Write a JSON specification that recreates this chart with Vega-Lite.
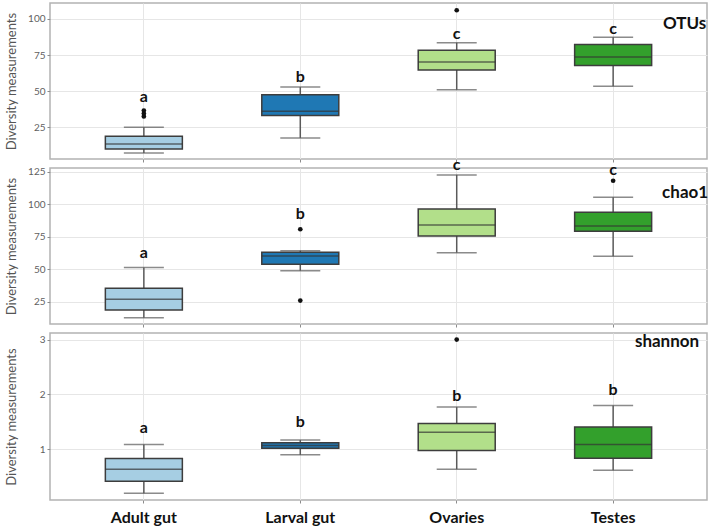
{
  "$schema": "https://vega.github.io/schema/vega-lite/v6.json",
  "padding": {"left": 4, "top": 2, "right": 2, "bottom": 0},
  "spacing": 9,
  "bounds": "flush",
  "datasets": {
    "stats": [
      {"panel": "OTUs", "group": "Adult gut", "lower": 7.2, "q1": 9.9, "median": 13.4, "q3": 18.75, "upper": 25},
      {"panel": "OTUs", "group": "Larval gut", "lower": 17.6, "q1": 33.1, "median": 36.1, "q3": 47.4, "upper": 52.8},
      {"panel": "OTUs", "group": "Ovaries", "lower": 50.9, "q1": 64.6, "median": 70.1, "q3": 78.3, "upper": 83.5},
      {"panel": "OTUs", "group": "Testes", "lower": 53.3, "q1": 67.8, "median": 73.6, "q3": 82.2, "upper": 87.3},
      {"panel": "chao1", "group": "Adult gut", "lower": 12.7, "q1": 18.6, "median": 26.8, "q3": 35.3, "upper": 51.2},
      {"panel": "chao1", "group": "Larval gut", "lower": 48.8, "q1": 53.8, "median": 60.2, "q3": 63, "upper": 64.2},
      {"panel": "chao1", "group": "Ovaries", "lower": 62.7, "q1": 75.5, "median": 84, "q3": 96.3, "upper": 122.5},
      {"panel": "chao1", "group": "Testes", "lower": 60, "q1": 79.2, "median": 83.2, "q3": 93.8, "upper": 105.3},
      {"panel": "shannon", "group": "Adult gut", "lower": 0.2, "q1": 0.418, "median": 0.636, "q3": 0.836, "upper": 1.09},
      {"panel": "shannon", "group": "Larval gut", "lower": 0.9, "q1": 1.02, "median": 1.07, "q3": 1.12, "upper": 1.17},
      {"panel": "shannon", "group": "Ovaries", "lower": 0.64, "q1": 0.98, "median": 1.31, "q3": 1.47, "upper": 1.77},
      {"panel": "shannon", "group": "Testes", "lower": 0.62, "q1": 0.84, "median": 1.09, "q3": 1.41, "upper": 1.8}
    ],
    "outliers": [
      {"panel": "OTUs", "group": "Adult gut", "value": 32.5},
      {"panel": "OTUs", "group": "Adult gut", "value": 34.5},
      {"panel": "OTUs", "group": "Adult gut", "value": 36.5},
      {"panel": "OTUs", "group": "Ovaries", "value": 106},
      {"panel": "chao1", "group": "Larval gut", "value": 80.7},
      {"panel": "chao1", "group": "Larval gut", "value": 25.8},
      {"panel": "chao1", "group": "Testes", "value": 118},
      {"panel": "shannon", "group": "Ovaries", "value": 3.0}
    ],
    "letters": [
      {"panel": "OTUs", "group": "Adult gut", "y": 46.0, "text": "a"},
      {"panel": "OTUs", "group": "Larval gut", "y": 59.7, "text": "b"},
      {"panel": "OTUs", "group": "Ovaries", "y": 89.6, "text": "c"},
      {"panel": "OTUs", "group": "Testes", "y": 93.3, "text": "c"},
      {"panel": "chao1", "group": "Adult gut", "y": 62.7, "text": "a"},
      {"panel": "chao1", "group": "Larval gut", "y": 92.2, "text": "b"},
      {"panel": "chao1", "group": "Ovaries", "y": 130.2, "text": "c"},
      {"panel": "chao1", "group": "Testes", "y": 126.3, "text": "c"},
      {"panel": "shannon", "group": "Adult gut", "y": 1.39, "text": "a"},
      {"panel": "shannon", "group": "Larval gut", "y": 1.50, "text": "b"},
      {"panel": "shannon", "group": "Ovaries", "y": 1.97, "text": "b"},
      {"panel": "shannon", "group": "Testes", "y": 2.08, "text": "b"}
    ],
    "titles": [
      {"panel": "OTUs", "group": "Testes", "y": 96.5, "text": "OTUs"},
      {"panel": "chao1", "group": "Testes", "y": 108.6, "text": "chao1"},
      {"panel": "shannon", "group": "Testes", "y": 2.95, "text": "shannon"}
    ]
  },
  "vconcat": [
    {
      "width": 657, "height": 156,
      "encoding": {
        "x": {"field": "group", "type": "nominal", "scale": {"domain": ["Adult gut", "Larval gut", "Ovaries", "Testes"], "paddingInner": 0, "paddingOuter": 0.1}, "axis": {"labels": false, "title": null, "grid": true, "bandPosition": 0.5}}
      },
      "layer": [
        {"data": {"name": "stats"}, "transform": [{"filter": "datum.panel == 'OTUs'"}],
         "mark": {"type": "rule", "color": "#5a5a5a", "strokeWidth": 1.5},
         "encoding": {"y": {"field": "lower", "type": "quantitative", "title": "Diversity measurements", "scale": {"domain": [3, 111], "nice": false, "zero": false},
           "axis": {"values": [25, 50, 75, 100], "labelOverlap": false}},
           "y2": {"field": "upper"}}},
        {"data": {"name": "stats"}, "transform": [{"filter": "datum.panel == 'OTUs'"}],
         "mark": {"type": "tick", "color": "#5a5a5a", "thickness": 1.5, "size": 40, "orient": "horizontal"},
         "encoding": {"y": {"field": "lower", "type": "quantitative", "title": "Diversity measurements", "scale": {"domain": [3, 111], "nice": false, "zero": false}}}},
        {"data": {"name": "stats"}, "transform": [{"filter": "datum.panel == 'OTUs'"}],
         "mark": {"type": "tick", "color": "#5a5a5a", "thickness": 1.5, "size": 40, "orient": "horizontal"},
         "encoding": {"y": {"field": "upper", "type": "quantitative", "title": "Diversity measurements", "scale": {"domain": [3, 111], "nice": false, "zero": false}}}},
        {"data": {"name": "stats"}, "transform": [{"filter": "datum.panel == 'OTUs'"}],
         "mark": {"type": "bar", "size": 77, "stroke": "#3d3d3d", "strokeWidth": 1.5, "opacity": 1},
         "encoding": {"y": {"field": "q1", "type": "quantitative", "title": "Diversity measurements", "scale": {"domain": [3, 111], "nice": false, "zero": false}}, "y2": {"field": "q3"},
           "color": {"field": "group", "type": "nominal", "legend": null, "scale": {"domain": ["Adult gut", "Larval gut", "Ovaries", "Testes"], "range": ["#a6cee3", "#1f78b4", "#b2df8a", "#33a02c"]}}}},
        {"data": {"name": "stats"}, "transform": [{"filter": "datum.panel == 'OTUs'"}],
         "mark": {"type": "tick", "color": "#333333", "thickness": 1.5, "size": 77, "orient": "horizontal"},
         "encoding": {"y": {"field": "median", "type": "quantitative", "title": "Diversity measurements", "scale": {"domain": [3, 111], "nice": false, "zero": false}}}},
        {"data": {"name": "outliers"}, "transform": [{"filter": "datum.panel == 'OTUs'"}],
         "mark": {"type": "circle", "color": "#111111", "size": 22, "opacity": 1},
         "encoding": {"y": {"field": "value", "type": "quantitative", "title": "Diversity measurements", "scale": {"domain": [3, 111], "nice": false, "zero": false}}}},
        {"data": {"name": "letters"}, "transform": [{"filter": "datum.panel == 'OTUs'"}],
         "mark": {"type": "text", "font": "Lato", "fontWeight": "bold", "fontSize": 16, "color": "#111111", "baseline": "middle"},
         "encoding": {"y": {"field": "y", "type": "quantitative", "title": "Diversity measurements", "scale": {"domain": [3, 111], "nice": false, "zero": false}}, "text": {"field": "text"}}},
        {"data": {"name": "titles"}, "transform": [{"filter": "datum.panel == 'OTUs'"}],
         "mark": {"type": "text", "font": "Lato", "fontWeight": "bold", "fontSize": 17, "color": "#111111", "baseline": "middle", "align": "right", "dx": 93},
         "encoding": {"y": {"field": "y", "type": "quantitative", "title": "Diversity measurements", "scale": {"domain": [3, 111], "nice": false, "zero": false}}, "text": {"field": "text"}}}
      ]
    },
    {
      "width": 657, "height": 156,
      "encoding": {
        "x": {"field": "group", "type": "nominal", "scale": {"domain": ["Adult gut", "Larval gut", "Ovaries", "Testes"], "paddingInner": 0, "paddingOuter": 0.1}, "axis": {"labels": false, "title": null, "grid": true, "bandPosition": 0.5}}
      },
      "layer": [
        {"data": {"name": "stats"}, "transform": [{"filter": "datum.panel == 'chao1'"}],
         "mark": {"type": "rule", "color": "#5a5a5a", "strokeWidth": 1.5},
         "encoding": {"y": {"field": "lower", "type": "quantitative", "title": "Diversity measurements", "scale": {"domain": [7.8, 127.8], "nice": false, "zero": false},
           "axis": {"values": [25, 50, 75, 100, 125], "labelOverlap": false, "labelSeparation": 0, "labelBound": false}},
           "y2": {"field": "upper"}}},
        {"data": {"name": "stats"}, "transform": [{"filter": "datum.panel == 'chao1'"}],
         "mark": {"type": "tick", "color": "#5a5a5a", "thickness": 1.5, "size": 40, "orient": "horizontal"},
         "encoding": {"y": {"field": "lower", "type": "quantitative", "title": "Diversity measurements", "scale": {"domain": [7.8, 127.8], "nice": false, "zero": false}, "axis": {"values": [25, 50, 75, 100, 125], "labelOverlap": false, "labelSeparation": 0, "labelBound": false}}}},
        {"data": {"name": "stats"}, "transform": [{"filter": "datum.panel == 'chao1'"}],
         "mark": {"type": "tick", "color": "#5a5a5a", "thickness": 1.5, "size": 40, "orient": "horizontal"},
         "encoding": {"y": {"field": "upper", "type": "quantitative", "title": "Diversity measurements", "scale": {"domain": [7.8, 127.8], "nice": false, "zero": false}, "axis": {"values": [25, 50, 75, 100, 125], "labelOverlap": false, "labelSeparation": 0, "labelBound": false}}}},
        {"data": {"name": "stats"}, "transform": [{"filter": "datum.panel == 'chao1'"}],
         "mark": {"type": "bar", "size": 77, "stroke": "#3d3d3d", "strokeWidth": 1.5, "opacity": 1},
         "encoding": {"y": {"field": "q1", "type": "quantitative", "title": "Diversity measurements", "scale": {"domain": [7.8, 127.8], "nice": false, "zero": false}, "axis": {"values": [25, 50, 75, 100, 125], "labelOverlap": false, "labelSeparation": 0, "labelBound": false}}, "y2": {"field": "q3"},
           "color": {"field": "group", "type": "nominal", "legend": null, "scale": {"domain": ["Adult gut", "Larval gut", "Ovaries", "Testes"], "range": ["#a6cee3", "#1f78b4", "#b2df8a", "#33a02c"]}}}},
        {"data": {"name": "stats"}, "transform": [{"filter": "datum.panel == 'chao1'"}],
         "mark": {"type": "tick", "color": "#333333", "thickness": 1.5, "size": 77, "orient": "horizontal"},
         "encoding": {"y": {"field": "median", "type": "quantitative", "title": "Diversity measurements", "scale": {"domain": [7.8, 127.8], "nice": false, "zero": false}, "axis": {"values": [25, 50, 75, 100, 125], "labelOverlap": false, "labelSeparation": 0, "labelBound": false}}}},
        {"data": {"name": "outliers"}, "transform": [{"filter": "datum.panel == 'chao1'"}],
         "mark": {"type": "circle", "color": "#111111", "size": 22, "opacity": 1},
         "encoding": {"y": {"field": "value", "type": "quantitative", "title": "Diversity measurements", "scale": {"domain": [7.8, 127.8], "nice": false, "zero": false}, "axis": {"values": [25, 50, 75, 100, 125], "labelOverlap": false, "labelSeparation": 0, "labelBound": false}}}},
        {"data": {"name": "letters"}, "transform": [{"filter": "datum.panel == 'chao1'"}],
         "mark": {"type": "text", "font": "Lato", "fontWeight": "bold", "fontSize": 16, "color": "#111111", "baseline": "middle"},
         "encoding": {"y": {"field": "y", "type": "quantitative", "title": "Diversity measurements", "scale": {"domain": [7.8, 127.8], "nice": false, "zero": false}, "axis": {"values": [25, 50, 75, 100, 125], "labelOverlap": false, "labelSeparation": 0, "labelBound": false}}, "text": {"field": "text"}}},
        {"data": {"name": "titles"}, "transform": [{"filter": "datum.panel == 'chao1'"}],
         "mark": {"type": "text", "font": "Lato", "fontWeight": "bold", "fontSize": 17, "color": "#111111", "baseline": "middle", "align": "right", "dx": 95},
         "encoding": {"y": {"field": "y", "type": "quantitative", "title": "Diversity measurements", "scale": {"domain": [7.8, 127.8], "nice": false, "zero": false}, "axis": {"values": [25, 50, 75, 100, 125], "labelOverlap": false, "labelSeparation": 0, "labelBound": false}}, "text": {"field": "text"}}}
      ]
    },
    {
      "width": 657, "height": 167,
      "encoding": {
        "x": {"field": "group", "type": "nominal", "scale": {"domain": ["Adult gut", "Larval gut", "Ovaries", "Testes"], "paddingInner": 0, "paddingOuter": 0.1}, "axis": {"labels": true, "title": null, "grid": true, "bandPosition": 0.5, "labelFontSize": 16, "labelFontWeight": "bold", "labelColor": "#111111", "labelPadding": 6, "labelAngle": 0}}
      },
      "layer": [
        {"data": {"name": "stats"}, "transform": [{"filter": "datum.panel == 'shannon'"}],
         "mark": {"type": "rule", "color": "#5a5a5a", "strokeWidth": 1.5},
         "encoding": {"y": {"field": "lower", "type": "quantitative", "title": "Diversity measurements", "scale": {"domain": [0.078, 3.12], "nice": false, "zero": false},
           "axis": {"values": [1, 2, 3], "format": "d", "labelOverlap": false}},
           "y2": {"field": "upper"}}},
        {"data": {"name": "stats"}, "transform": [{"filter": "datum.panel == 'shannon'"}],
         "mark": {"type": "tick", "color": "#5a5a5a", "thickness": 1.5, "size": 40, "orient": "horizontal"},
         "encoding": {"y": {"field": "lower", "type": "quantitative", "title": "Diversity measurements", "scale": {"domain": [0.078, 3.12], "nice": false, "zero": false}}}},
        {"data": {"name": "stats"}, "transform": [{"filter": "datum.panel == 'shannon'"}],
         "mark": {"type": "tick", "color": "#5a5a5a", "thickness": 1.5, "size": 40, "orient": "horizontal"},
         "encoding": {"y": {"field": "upper", "type": "quantitative", "title": "Diversity measurements", "scale": {"domain": [0.078, 3.12], "nice": false, "zero": false}}}},
        {"data": {"name": "stats"}, "transform": [{"filter": "datum.panel == 'shannon'"}],
         "mark": {"type": "bar", "size": 77, "stroke": "#3d3d3d", "strokeWidth": 1.5, "opacity": 1},
         "encoding": {"y": {"field": "q1", "type": "quantitative", "title": "Diversity measurements", "scale": {"domain": [0.078, 3.12], "nice": false, "zero": false}}, "y2": {"field": "q3"},
           "color": {"field": "group", "type": "nominal", "legend": null, "scale": {"domain": ["Adult gut", "Larval gut", "Ovaries", "Testes"], "range": ["#a6cee3", "#1f78b4", "#b2df8a", "#33a02c"]}}}},
        {"data": {"name": "stats"}, "transform": [{"filter": "datum.panel == 'shannon'"}],
         "mark": {"type": "tick", "color": "#333333", "thickness": 1.5, "size": 77, "orient": "horizontal"},
         "encoding": {"y": {"field": "median", "type": "quantitative", "title": "Diversity measurements", "scale": {"domain": [0.078, 3.12], "nice": false, "zero": false}}}},
        {"data": {"name": "outliers"}, "transform": [{"filter": "datum.panel == 'shannon'"}],
         "mark": {"type": "circle", "color": "#111111", "size": 22, "opacity": 1},
         "encoding": {"y": {"field": "value", "type": "quantitative", "title": "Diversity measurements", "scale": {"domain": [0.078, 3.12], "nice": false, "zero": false}}}},
        {"data": {"name": "letters"}, "transform": [{"filter": "datum.panel == 'shannon'"}],
         "mark": {"type": "text", "font": "Lato", "fontWeight": "bold", "fontSize": 16, "color": "#111111", "baseline": "middle"},
         "encoding": {"y": {"field": "y", "type": "quantitative", "title": "Diversity measurements", "scale": {"domain": [0.078, 3.12], "nice": false, "zero": false}}, "text": {"field": "text"}}},
        {"data": {"name": "titles"}, "transform": [{"filter": "datum.panel == 'shannon'"}],
         "mark": {"type": "text", "font": "Lato", "fontWeight": "bold", "fontSize": 17, "color": "#111111", "baseline": "middle", "align": "right", "dx": 86},
         "encoding": {"y": {"field": "y", "type": "quantitative", "title": "Diversity measurements", "scale": {"domain": [0.078, 3.12], "nice": false, "zero": false}}, "text": {"field": "text"}}}
      ]
    }
  ],
  "config": {
    "view": {"stroke": "#b3b3b3", "strokeWidth": 1.5},
    "font": "Lato",
    "axis": {"domain": false, "gridColor": "#e6e6e6", "gridWidth": 1, "tickColor": "#8c8c8c", "tickSize": 3, "tickWidth": 1, "labelColor": "#5f5f5f", "labelFont": "Lato", "labelFontSize": 10},
    "axisY": {"labelOverlap": false, "titleFont": "Lato", "titleFontSize": 13, "titleFontWeight": "normal", "titleColor": "#555555", "titlePadding": 4, "minExtent": 28, "maxExtent": 28, "labelPadding": 2}
  }
}
